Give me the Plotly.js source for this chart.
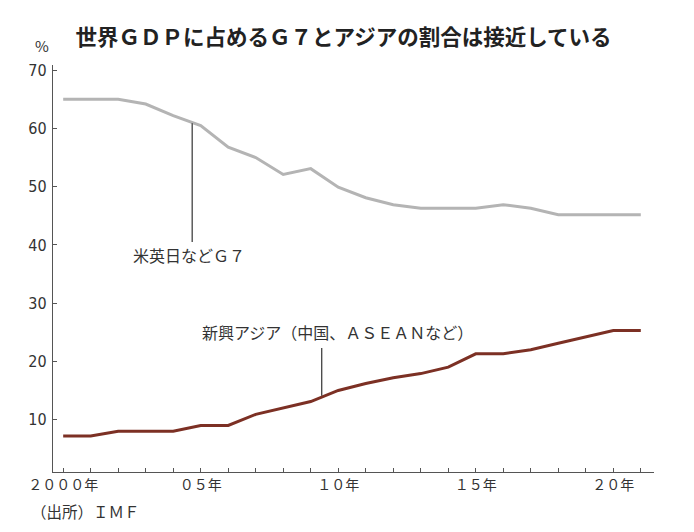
<!DOCTYPE html>
<html>
<head>
<meta charset="utf-8">
<script src="https://cdn.plot.ly/plotly-3.0.1.min.js"></script>
<style>
  html, body { margin: 0; padding: 0; background: #fff; }
  #chart { width: 694px; height: 532px; }
</style>
</head>
<body>
<div id="chart"></div>
<script>
// Share of world GDP (%)
const years = [2000, 2001, 2002, 2003, 2004, 2005, 2006, 2007, 2008, 2009, 2010,
  2011, 2012, 2013, 2014, 2015, 2016, 2017, 2018, 2019, 2020, 2021];
const g7Share = [65, 65, 65, 64.2, 62.2, 60.5, 56.8, 55.0, 52.1, 53.1, 49.9,
  48.1, 46.9, 46.3, 46.3, 46.3, 46.9, 46.3, 45.2, 45.2, 45.2, 45.2];
const asiaShare = [7.2, 7.2, 8.0, 8.0, 8.0, 9.0, 9.0, 10.9, 12.0, 13.1, 15.0,
  16.2, 17.2, 17.9, 19.0, 21.3, 21.3, 22.0, 23.1, 24.2, 25.3, 25.3];

const yTickVals = [10, 20, 30, 40, 50, 60, 70];
const xTickVals = [2000, 2005, 2010, 2015, 2020];
const xTickText = ['２０００年', '０５年', '１０年', '１５年', '２０年'];

const jpFont = '"Noto Sans CJK JP", "Noto Sans", sans-serif';

const data = [
  {
    x: years, y: g7Share, type: 'scatter', mode: 'lines',
    line: { color: '#b4b4b4', width: 3 },
    hoverinfo: 'skip', name: '米英日などＧ７'
  },
  {
    x: years, y: asiaShare, type: 'scatter', mode: 'lines',
    line: { color: '#7c3024', width: 3 },
    hoverinfo: 'skip', name: '新興アジア'
  }
];

const layout = {
  width: 694,
  height: 532,
  margin: { l: 53, r: 40, t: 65, b: 60 },
  paper_bgcolor: '#fff',
  plot_bgcolor: '#fff',
  showlegend: false,
  font: { family: jpFont, color: '#333', size: 15 },
  title: {
    text: '<b>世界ＧＤＰに占めるＧ７とアジアの割合は接近している</b>',
    font: { family: jpFont, size: 21.5, color: '#222' },
    x: 0.495, xanchor: 'center', y: 0.93, yanchor: 'middle'
  },
  xaxis: {
    range: [1999.63, 2021.48],
    showgrid: false, zeroline: false,
    showline: true, linecolor: '#555', linewidth: 1.2,
    ticks: 'inside', ticklen: 4, tickcolor: '#555',
    tickmode: 'array',
    tickvals: years,
    ticktext: years.map(y => {
      const i = xTickVals.indexOf(y);
      return i >= 0 ? xTickText[i] : '';
    }),
    tickfont: { family: jpFont, size: 14, color: '#333' },
    fixedrange: true
  },
  yaxis: {
    range: [1, 70.9],
    showgrid: false, zeroline: false,
    showline: true, linecolor: '#555', linewidth: 1.2,
    ticks: 'inside', ticklen: 4, tickcolor: '#555',
    tickmode: 'array', tickvals: yTickVals,
    tickfont: { family: '"Liberation Sans Narrow", "DejaVu Sans Condensed", sans-serif', size: 16, color: '#333' },
    ticklabelstandoff: 2,
    fixedrange: true
  },
  shapes: [
    // leader lines from labels to the series
    { type: 'line', xref: 'x', yref: 'y', x0: 2004.69, x1: 2004.69, y0: 60.9, y1: 40.5,
      line: { color: '#333', width: 1.2 } },
    { type: 'line', xref: 'x', yref: 'y', x0: 2009.4, x1: 2009.4, y0: 22.3, y1: 14.1,
      line: { color: '#333', width: 1.2 } }
  ],
  annotations: [
    { text: '米英日などＧ７', xref: 'x', yref: 'y', x: 2004.57, y: 38.3,
      showarrow: false, font: { family: jpFont, size: 16, color: '#333' } },
    { text: '新興アジア（中国、ＡＳＥＡＮなど）', xref: 'x', yref: 'y', x: 2009.97, y: 25.1,
      showarrow: false, font: { family: jpFont, size: 16, color: '#333' } },
    { text: '%', xref: 'paper', yref: 'paper', x: -0.018, y: 1.049, xanchor: 'center',
      yanchor: 'middle', showarrow: false, font: { family: jpFont, size: 15, color: '#333' } },
    { text: '（出所）ＩＭＦ', xref: 'paper', yref: 'paper', x: -0.04, y: -0.097, xanchor: 'left',
      yanchor: 'middle', showarrow: false, font: { family: jpFont, size: 15.5, color: '#333' } }
  ]
};

Plotly.newPlot('chart', data, layout, { displayModeBar: false, staticPlot: true });
</script>
</body>
</html>
